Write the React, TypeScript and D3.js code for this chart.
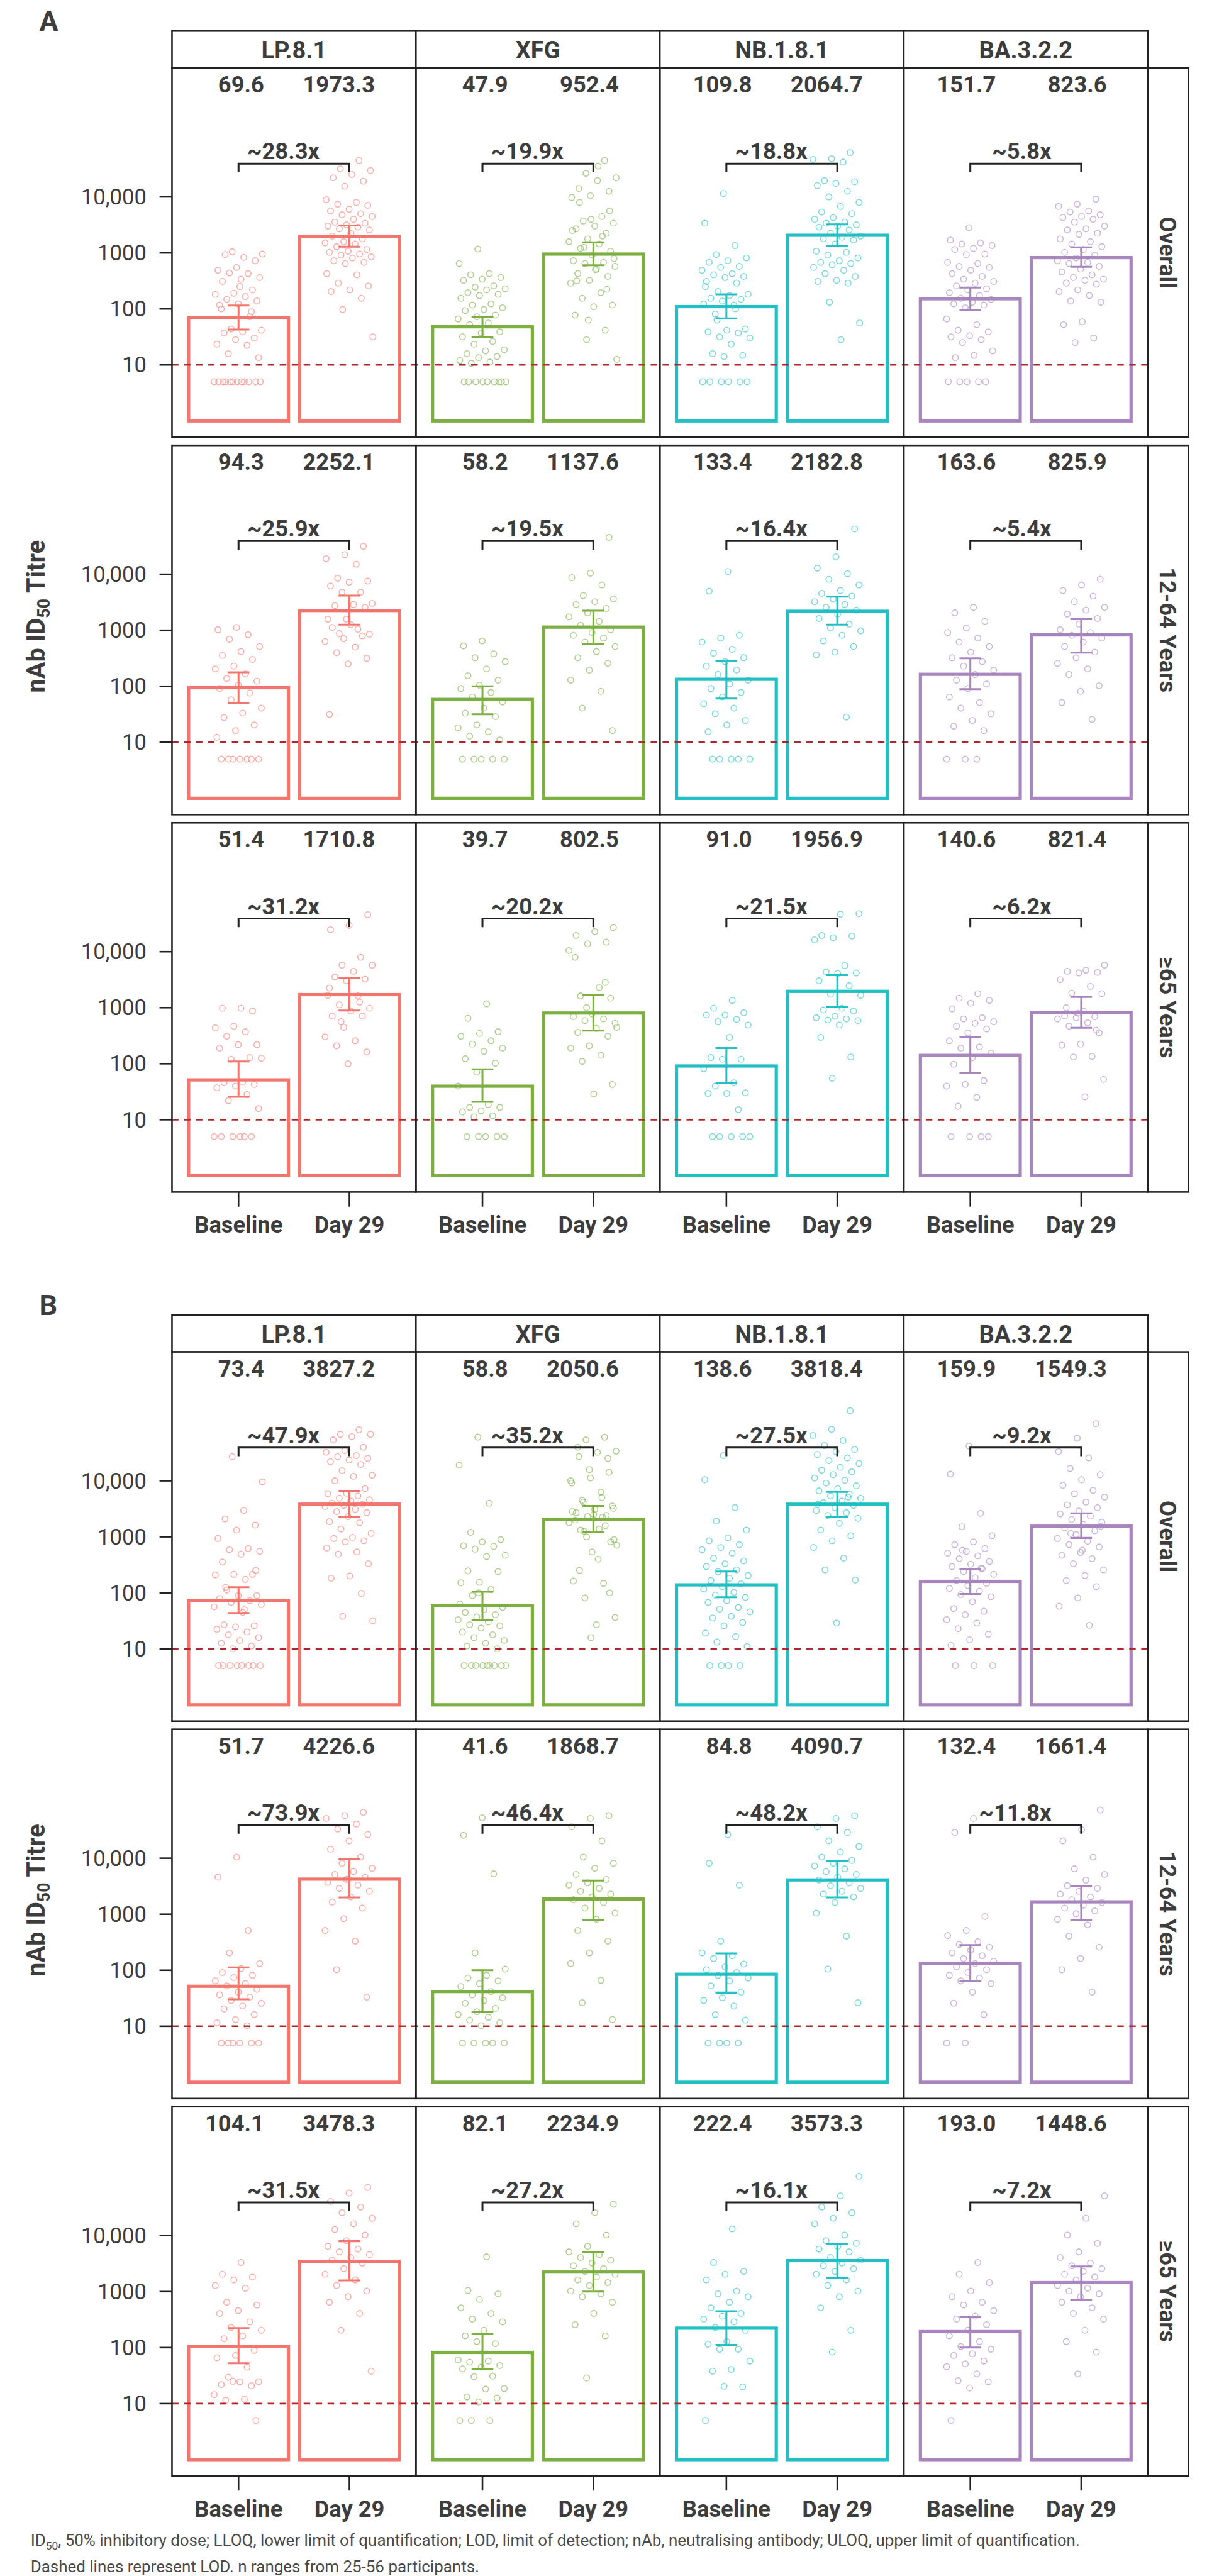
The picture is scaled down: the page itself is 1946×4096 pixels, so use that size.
import React from 'react';
import * as d3 from 'd3';

// ---- labels ----
const variants = ['LP.8.1', 'XFG', 'NB.1.8.1', 'BA.3.2.2'];
const subgroups = ['Overall', '12-64 Years', '\u226565 Years'];
const timepoints = ['Baseline', 'Day 29'];
const panelLetters = ['A', 'B'];
const variantColors = ['#F3766E', '#7CAE42', '#22BFC4', '#A985BF'];
const yTicks = [10, 100, 1000, 10000];
const yTickLabels = ['10', '100', '1000', '10,000'];
const lod = 10;

// ---- GMT (bar heights) [variant][baseline, day 29] ----
const gmtA_overall = [[69.6, 1973.3], [47.9, 952.4], [109.8, 2064.7], [151.7, 823.6]];
const gmtA_1264 = [[94.3, 2252.1], [58.2, 1137.6], [133.4, 2182.8], [163.6, 825.9]];
const gmtA_65 = [[51.4, 1710.8], [39.7, 802.5], [91.0, 1956.9], [140.6, 821.4]];
const gmtB_overall = [[73.4, 3827.2], [58.8, 2050.6], [138.6, 3818.4], [159.9, 1549.3]];
const gmtB_1264 = [[51.7, 4226.6], [41.6, 1868.7], [84.8, 4090.7], [132.4, 1661.4]];
const gmtB_65 = [[104.1, 3478.3], [82.1, 2234.9], [222.4, 3573.3], [193.0, 1448.6]];

// ---- fold rise labels ----
const foldA = [
  ['~28.3x', '~19.9x', '~18.8x', '~5.8x'],
  ['~25.9x', '~19.5x', '~16.4x', '~5.4x'],
  ['~31.2x', '~20.2x', '~21.5x', '~6.2x'],
];
const foldB = [
  ['~47.9x', '~35.2x', '~27.5x', '~9.2x'],
  ['~73.9x', '~46.4x', '~48.2x', '~11.8x'],
  ['~31.5x', '~27.2x', '~16.1x', '~7.2x'],
];

// ---- 95% CI, log10 titre [baseLo, baseHi, d29Lo, d29Hi] ----
const ciA_overall = [[1.63, 2.06, 3.11, 3.49], [1.50, 1.86, 2.78, 3.19], [1.83, 2.26, 3.12, 3.51], [1.98, 2.38, 2.75, 3.10]];
const ciA_1264 = [[1.70, 2.25, 3.10, 3.62], [1.50, 2.00, 2.75, 3.35], [1.78, 2.45, 3.10, 3.60], [1.95, 2.50, 2.60, 3.20]];
const ciA_65 = [[1.41, 2.04, 2.95, 3.53], [1.32, 1.90, 2.59, 3.23], [1.66, 2.28, 3.01, 3.58], [1.84, 2.47, 2.64, 3.19]];
const ciB_overall = [[1.64, 2.10, 3.35, 3.82], [1.52, 2.02, 3.08, 3.55], [1.92, 2.38, 3.35, 3.80], [1.98, 2.42, 2.98, 3.42]];
const ciB_1264 = [[1.48, 2.05, 3.30, 3.98], [1.25, 2.00, 2.90, 3.60], [1.60, 2.30, 3.30, 3.95], [1.80, 2.45, 2.90, 3.50]];
const ciB_65 = [[1.72, 2.35, 3.20, 3.90], [1.62, 2.25, 3.00, 3.70], [2.05, 2.65, 3.25, 3.85], [2.00, 2.55, 2.85, 3.45]];

// ---- individual titres, log10 (5 = below LOD) ----
// A, overall
const A_ovr_LP_b = [3.02, 2.98, 2.92, 2.97, 2.86, 2.74, 2.69, 2.63, 2.64, 2.56, 2.53, 2.49, 2.34, 2.28, 2.26, 2.22, 2.17, 2.14, 2.09, 2.07, 1.86, 1.64, 1.62, 1.59, 1.57, 1.48, 1.45, 1.37, 1.35, 1.20, 1.13, 2.40, 2.00, 1.95, 0.7, 0.7, 0.7, 0.7, 0.7, 0.7, 0.7, 0.7, 0.7, 0.7, 0.7, 0.7];
const A_ovr_LP_d = [4.65, 4.50, 4.47, 4.40, 4.34, 4.28, 4.19, 3.95, 3.90, 3.87, 3.85, 3.78, 3.75, 3.70, 3.68, 3.65, 3.60, 3.55, 3.53, 3.50, 3.48, 3.46, 3.43, 3.41, 3.35, 3.30, 3.25, 3.20, 3.18, 3.16, 3.11, 3.06, 3.03, 3.01, 2.98, 2.96, 2.93, 2.91, 2.86, 2.83, 2.81, 2.63, 2.61, 2.46, 2.41, 2.34, 2.31, 2.19, 1.99, 1.50];
const A_ovr_XFG_b = [3.07, 2.81, 2.63, 2.61, 2.56, 2.53, 2.51, 2.41, 2.39, 2.36, 2.34, 2.29, 2.26, 2.24, 2.19, 2.09, 2.07, 2.02, 1.99, 1.97, 1.89, 1.86, 1.82, 1.75, 1.72, 1.59, 1.57, 1.50, 1.42, 1.37, 1.27, 1.25, 1.20, 1.15, 1.13, 1.08, 1.05, 1.03, 0.7, 0.7, 0.7, 0.7, 0.7, 0.7, 0.7, 0.7, 0.7];
const A_ovr_XFG_d = [4.65, 4.42, 4.34, 4.29, 4.15, 4.10, 4.02, 3.99, 3.65, 3.57, 3.53, 3.48, 3.43, 3.35, 3.25, 3.20, 3.16, 3.08, 3.03, 2.96, 2.86, 2.83, 2.81, 2.76, 2.71, 2.63, 2.58, 2.51, 2.46, 2.29, 2.19, 2.07, 2.04, 1.89, 1.62, 1.45, 1.10, 4.55, 3.90, 3.75, 3.60, 3.40, 3.30, 3.10, 2.90, 2.70, 2.50, 2.35, 1.80];
const A_ovr_NB_b = [4.06, 3.53, 3.13, 2.97, 2.91, 2.86, 2.83, 2.76, 2.74, 2.69, 2.63, 2.61, 2.58, 2.56, 2.49, 2.46, 2.31, 2.26, 2.24, 2.19, 2.17, 2.14, 2.09, 2.07, 1.91, 1.64, 1.62, 1.59, 1.57, 1.50, 1.48, 1.37, 1.20, 1.17, 1.15, 2.40, 2.00, 1.80, 0.7, 0.7, 0.7, 0.7, 0.7, 0.7];
const A_ovr_NB_d = [4.79, 4.68, 4.67, 4.62, 4.29, 4.27, 4.24, 4.20, 4.10, 4.00, 3.90, 3.83, 3.73, 3.70, 3.63, 3.60, 3.55, 3.53, 3.50, 3.48, 3.46, 3.41, 3.35, 3.30, 3.28, 3.25, 3.23, 3.16, 3.03, 3.01, 2.96, 2.91, 2.86, 2.83, 2.81, 2.79, 2.74, 2.69, 2.63, 2.58, 2.51, 2.49, 2.46, 2.12, 1.75, 1.45];
const A_ovr_BA_b = [3.45, 3.23, 3.18, 3.16, 3.13, 3.08, 3.06, 2.98, 2.97, 2.83, 2.81, 2.76, 2.74, 2.69, 2.63, 2.58, 2.53, 2.49, 2.46, 2.41, 2.36, 2.34, 2.29, 2.24, 2.19, 2.17, 2.12, 2.09, 2.07, 2.02, 1.82, 1.72, 1.62, 1.59, 1.52, 1.50, 1.45, 1.40, 1.25, 1.17, 1.13, 0.7, 0.7, 0.7, 0.7, 0.7];
const A_ovr_BA_d = [3.96, 3.87, 3.83, 3.75, 3.73, 3.68, 3.65, 3.63, 3.60, 3.55, 3.48, 3.43, 3.41, 3.35, 3.33, 3.25, 3.20, 3.16, 3.11, 3.06, 3.01, 2.96, 2.91, 2.86, 2.83, 2.81, 2.76, 2.71, 2.66, 2.61, 2.56, 2.53, 2.51, 2.46, 2.44, 2.34, 2.31, 2.24, 2.14, 2.12, 1.77, 1.72, 1.48, 1.40];
// A, 12-64 years
const A_yng_LP_b = [3.05, 3.01, 2.92, 2.84, 2.71, 2.62, 2.55, 2.48, 2.36, 2.31, 2.22, 2.14, 2.09, 2.02, 1.96, 1.88, 1.76, 1.61, 1.52, 1.44, 1.31, 1.21, 1.09, 0.7, 0.7, 0.7, 0.7, 0.7, 0.7, 0.7];
const A_yng_LP_d = [4.50, 4.35, 4.28, 4.18, 3.93, 3.88, 3.86, 3.79, 3.68, 3.68, 3.48, 3.46, 3.44, 3.41, 3.20, 3.20, 3.02, 2.94, 2.93, 3.10, 3.05, 2.90, 2.85, 2.80, 2.70, 2.60, 2.50, 2.40, 1.50];
const A_yng_XFG_b = [2.81, 2.72, 2.58, 2.51, 2.44, 2.31, 2.19, 2.11, 2.02, 1.96, 1.89, 1.81, 1.72, 1.61, 1.52, 1.46, 1.31, 1.26, 1.19, 1.11, 1.04, 0.7, 0.7, 0.7, 0.7, 0.7];
const A_yng_XFG_d = [4.66, 4.02, 3.94, 3.81, 3.62, 3.56, 3.51, 3.46, 3.39, 3.31, 3.24, 3.16, 3.09, 3.01, 2.96, 2.91, 2.86, 2.79, 2.71, 2.62, 2.51, 2.41, 2.29, 2.11, 1.91, 1.61, 1.21];
const A_yng_NB_b = [4.05, 3.70, 2.91, 2.86, 2.79, 2.66, 2.59, 2.51, 2.44, 2.36, 2.29, 2.21, 2.11, 2.04, 1.96, 1.89, 1.81, 1.69, 1.61, 1.51, 1.39, 1.31, 1.19, 0.7, 0.7, 0.7, 0.7, 0.7];
const A_yng_NB_d = [4.81, 4.31, 4.11, 4.01, 3.91, 3.81, 3.71, 3.66, 3.61, 3.56, 3.51, 3.46, 3.41, 3.36, 3.29, 3.21, 3.11, 3.04, 2.99, 2.91, 2.81, 2.71, 2.61, 2.56, 1.45];
const A_yng_BA_b = [3.41, 3.31, 3.16, 3.04, 2.96, 2.86, 2.79, 2.71, 2.61, 2.51, 2.44, 2.36, 2.29, 2.21, 2.11, 2.04, 1.96, 1.81, 1.71, 1.61, 1.51, 1.39, 1.29, 1.21, 0.7, 0.7, 0.7];
const A_yng_BA_d = [3.91, 3.81, 3.71, 3.61, 3.51, 3.41, 3.36, 3.29, 3.21, 3.11, 3.01, 2.96, 2.91, 2.86, 2.79, 2.71, 2.61, 2.51, 2.41, 2.31, 2.21, 2.01, 1.91, 1.71, 1.41];
// A, >=65 years
const A_old_LP_b = [2.99, 2.99, 2.94, 2.67, 2.64, 2.57, 2.49, 2.34, 2.34, 2.28, 2.11, 2.08, 2.10, 1.67, 1.66, 1.63, 1.60, 1.57, 1.45, 1.34, 1.20, 0.7, 0.7, 0.7, 0.7, 0.7, 0.7];
const A_old_LP_d = [4.66, 4.47, 4.39, 3.90, 3.76, 3.76, 3.65, 3.55, 3.51, 3.48, 3.22, 3.21, 3.05, 2.99, 2.94, 2.85, 2.85, 2.65, 2.48, 2.41, 2.32, 2.21, 2.00, 3.35, 3.10, 2.75];
const A_old_XFG_b = [3.07, 2.81, 2.57, 2.54, 2.49, 2.41, 2.35, 2.28, 2.22, 2.09, 2.01, 1.85, 1.60, 1.27, 1.22, 1.22, 1.16, 1.14, 1.07, 1.05, 0.7, 0.7, 0.7, 0.7, 0.7];
const A_old_XFG_d = [4.43, 4.36, 4.29, 4.17, 4.14, 4.02, 3.36, 3.21, 3.17, 2.89, 2.84, 2.80, 2.77, 2.72, 2.63, 2.56, 2.49, 2.32, 2.28, 2.15, 2.04, 1.63, 1.46, 3.90, 3.45, 3.00, 2.65];
const A_old_NB_b = [3.13, 2.99, 2.91, 2.87, 2.87, 2.79, 2.75, 2.69, 2.47, 2.11, 2.08, 2.08, 1.91, 1.66, 1.60, 1.48, 1.47, 1.47, 1.18, 0.7, 0.7, 0.7, 0.7, 0.7];
const A_old_NB_d = [4.68, 4.67, 4.29, 4.28, 4.25, 4.21, 3.75, 3.64, 3.62, 3.61, 3.48, 3.39, 3.24, 3.22, 2.99, 2.96, 2.94, 2.85, 2.82, 2.80, 2.78, 2.77, 2.69, 2.47, 2.12, 1.74];
const A_old_BA_b = [3.25, 3.17, 3.13, 3.08, 2.98, 2.82, 2.80, 2.75, 2.72, 2.67, 2.62, 2.55, 2.41, 2.30, 2.28, 2.19, 2.11, 1.99, 1.70, 1.63, 1.60, 1.40, 1.24, 0.7, 0.7, 0.7, 0.7];
const A_old_BA_d = [3.76, 3.67, 3.65, 3.63, 3.62, 3.50, 3.38, 3.26, 3.25, 2.94, 2.85, 2.84, 2.82, 2.80, 2.73, 2.67, 2.55, 2.35, 2.33, 2.13, 2.12, 1.72, 1.41, 3.00, 2.60, 2.90];
// B, overall
const B_ovr_LP_b = [4.43, 3.98, 3.47, 3.32, 3.21, 3.12, 2.97, 2.79, 2.77, 2.74, 2.69, 2.55, 2.33, 2.33, 2.32, 2.24, 2.05, 1.95, 1.95, 1.90, 1.86, 1.83, 1.79, 1.65, 1.43, 1.41, 1.39, 1.35, 1.30, 1.25, 1.20, 1.15, 1.10, 1.05, 1.00, 1.75, 1.70, 2.10, 2.40, 0.7, 0.7, 0.7, 0.7, 0.7, 0.7, 0.7, 0.7];
const B_ovr_LP_d = [4.91, 4.83, 4.83, 4.79, 4.73, 4.60, 4.54, 4.51, 4.45, 4.43, 4.40, 4.37, 4.34, 4.29, 4.18, 4.10, 4.08, 4.00, 3.86, 3.78, 3.77, 3.73, 3.69, 3.66, 3.64, 3.60, 3.58, 3.56, 3.54, 3.49, 3.45, 3.43, 3.36, 3.27, 3.25, 3.14, 3.06, 2.99, 2.97, 2.93, 2.91, 2.80, 2.73, 2.69, 2.52, 2.30, 2.26, 1.99, 1.58, 1.50];
const B_ovr_XFG_b = [4.78, 4.28, 3.60, 3.08, 2.95, 2.91, 2.84, 2.83, 2.78, 2.67, 2.65, 2.39, 2.38, 2.19, 2.18, 2.06, 1.95, 1.74, 1.70, 1.65, 1.61, 1.57, 1.52, 1.48, 1.43, 1.41, 1.37, 1.30, 1.25, 1.20, 1.15, 1.10, 1.05, 1.00, 2.00, 1.80, 0.7, 0.7, 0.7, 0.7, 0.7, 0.7, 0.7, 0.7, 0.7];
const B_ovr_XFG_d = [4.78, 4.73, 4.53, 4.51, 4.43, 4.15, 4.05, 3.96, 3.70, 3.62, 3.51, 3.49, 3.43, 3.38, 3.36, 3.25, 3.14, 3.12, 2.91, 2.73, 2.21, 2.17, 1.91, 1.56, 1.43, 4.60, 4.40, 4.20, 4.00, 3.80, 3.65, 3.55, 3.40, 3.30, 3.20, 3.00, 2.85, 2.60, 2.40, 2.00, 1.20, 3.45, 3.35, 3.10, 2.95];
const B_ovr_NB_b = [4.45, 4.02, 3.52, 3.28, 3.12, 2.98, 2.93, 2.86, 2.81, 2.77, 2.71, 2.62, 2.57, 2.52, 2.47, 2.41, 2.38, 2.31, 2.26, 2.22, 2.16, 2.11, 2.07, 2.01, 1.96, 1.92, 1.86, 1.83, 1.74, 1.71, 1.66, 1.58, 1.55, 1.47, 1.41, 1.28, 1.22, 1.12, 1.04, 0.7, 0.7, 0.7, 0.7];
const B_ovr_NB_d = [5.25, 4.92, 4.81, 4.72, 4.63, 4.56, 4.52, 4.47, 4.41, 4.36, 4.31, 4.24, 4.19, 4.16, 4.11, 4.05, 4.01, 3.96, 3.91, 3.86, 3.82, 3.76, 3.73, 3.69, 3.64, 3.61, 3.56, 3.52, 3.47, 3.43, 3.38, 3.33, 3.24, 3.12, 3.02, 2.93, 2.81, 2.62, 2.41, 2.23, 1.46, 3.58, 3.71];
const B_ovr_BA_b = [4.62, 4.12, 3.42, 3.18, 3.02, 2.91, 2.86, 2.79, 2.74, 2.71, 2.66, 2.61, 2.56, 2.51, 2.47, 2.43, 2.38, 2.33, 2.27, 2.22, 2.17, 2.13, 2.08, 2.03, 1.97, 1.93, 1.84, 1.72, 1.67, 1.61, 1.52, 1.46, 1.36, 1.26, 1.16, 1.06, 2.44, 2.76, 0.7, 0.7, 0.7];
const B_ovr_BA_d = [5.02, 4.76, 4.52, 4.41, 4.22, 4.11, 4.02, 3.92, 3.83, 3.77, 3.71, 3.62, 3.57, 3.52, 3.46, 3.41, 3.37, 3.31, 3.26, 3.22, 3.16, 3.11, 3.04, 2.97, 2.92, 2.86, 2.82, 2.72, 2.67, 2.61, 2.52, 2.41, 2.31, 2.22, 2.11, 1.91, 1.76, 1.42, 3.06, 3.19, 2.76];
// B, 12-64 years
const B_yng_LP_b = [4.02, 3.66, 2.71, 2.31, 2.12, 2.03, 1.96, 1.91, 1.87, 1.81, 1.76, 1.72, 1.66, 1.61, 1.56, 1.52, 1.46, 1.41, 1.36, 1.31, 1.21, 1.12, 1.06, 1.01, 0.7, 0.7, 0.7, 0.7, 0.7, 0.7];
const B_yng_LP_d = [4.82, 4.76, 4.71, 4.61, 4.52, 4.42, 4.31, 4.16, 4.02, 3.91, 3.82, 3.76, 3.71, 3.66, 3.62, 3.57, 3.52, 3.46, 3.41, 3.31, 3.22, 3.11, 2.92, 2.71, 2.52, 2.01, 1.52, 3.63];
const B_yng_XFG_b = [4.72, 4.41, 3.72, 2.31, 2.02, 1.91, 1.86, 1.81, 1.76, 1.71, 1.62, 1.56, 1.51, 1.46, 1.41, 1.32, 1.26, 1.21, 1.16, 1.11, 1.06, 1.01, 0.7, 0.7, 0.7, 0.7, 0.7];
const B_yng_XFG_d = [4.76, 4.71, 4.56, 4.31, 4.02, 3.91, 3.82, 3.71, 3.62, 3.56, 3.52, 3.46, 3.41, 3.36, 3.31, 3.26, 3.21, 3.11, 3.02, 2.91, 2.71, 2.52, 2.31, 2.12, 1.82, 1.42, 1.12];
const B_yng_NB_b = [4.42, 3.91, 3.52, 2.52, 2.31, 2.26, 2.21, 2.11, 2.06, 2.01, 1.96, 1.91, 1.86, 1.81, 1.72, 1.61, 1.51, 1.46, 1.36, 1.21, 1.11, 0.7, 0.7, 0.7, 0.7];
const B_yng_NB_d = [4.76, 4.71, 4.56, 4.46, 4.31, 4.21, 4.11, 4.02, 3.96, 3.91, 3.86, 3.81, 3.76, 3.71, 3.66, 3.61, 3.56, 3.51, 3.46, 3.41, 3.36, 3.31, 3.21, 3.02, 2.61, 2.02, 1.42];
const B_yng_BA_b = [4.71, 4.46, 2.96, 2.71, 2.62, 2.51, 2.46, 2.41, 2.36, 2.31, 2.26, 2.21, 2.16, 2.12, 2.06, 2.01, 1.96, 1.91, 1.86, 1.81, 1.76, 1.61, 1.41, 1.21, 0.7, 0.7];
const B_yng_BA_d = [4.86, 4.51, 4.31, 4.02, 3.81, 3.71, 3.61, 3.51, 3.46, 3.41, 3.36, 3.31, 3.26, 3.21, 3.16, 3.11, 3.06, 3.01, 2.91, 2.81, 2.61, 2.41, 2.21, 2.01, 1.61];
// B, >=65 years
const B_old_LP_b = [3.52, 3.31, 3.26, 3.21, 3.11, 3.06, 2.81, 2.76, 2.66, 2.61, 2.46, 2.36, 2.31, 2.21, 2.16, 1.95, 1.86, 1.82, 1.65, 1.47, 1.39, 1.39, 1.34, 1.32, 1.40, 1.16, 1.08, 1.06, 0.7];
const B_old_LP_d = [4.86, 4.76, 4.61, 4.51, 4.41, 4.31, 4.21, 4.11, 4.01, 3.91, 3.81, 3.76, 3.71, 3.66, 3.61, 3.56, 3.51, 3.41, 3.31, 3.21, 3.11, 3.01, 2.91, 2.81, 2.61, 2.31, 1.58];
const B_old_XFG_b = [3.62, 3.02, 2.96, 2.86, 2.71, 2.61, 2.51, 2.46, 2.31, 2.21, 2.07, 2.11, 1.78, 1.76, 1.74, 1.68, 1.65, 1.62, 1.49, 1.48, 1.27, 1.26, 1.12, 1.10, 1.03, 0.7, 0.7, 0.7];
const B_old_XFG_d = [4.56, 4.41, 4.21, 4.01, 3.81, 3.71, 3.66, 3.61, 3.56, 3.51, 3.46, 3.41, 3.36, 3.31, 3.26, 3.21, 3.16, 3.11, 3.01, 2.96, 2.91, 2.81, 2.61, 2.41, 2.21, 1.46];
const B_old_NB_b = [4.12, 3.52, 3.36, 3.31, 3.21, 3.01, 2.96, 2.91, 2.81, 2.71, 2.61, 2.56, 2.51, 2.46, 2.36, 2.31, 2.11, 2.06, 1.97, 1.97, 1.76, 1.61, 1.58, 1.30, 1.31, 0.7];
const B_old_NB_d = [5.06, 4.71, 4.51, 4.41, 4.31, 4.21, 4.01, 3.91, 3.86, 3.81, 3.76, 3.71, 3.61, 3.56, 3.51, 3.46, 3.41, 3.36, 3.31, 3.21, 3.11, 3.01, 2.91, 2.71, 2.31, 1.92];
const B_old_BA_b = [3.52, 3.31, 3.16, 3.01, 2.91, 2.81, 2.76, 2.66, 2.56, 2.51, 2.41, 2.31, 2.21, 2.11, 2.02, 1.97, 1.89, 1.86, 1.76, 1.71, 1.66, 1.53, 1.41, 1.39, 1.28, 0.7];
const B_old_BA_d = [4.71, 4.31, 4.01, 3.86, 3.71, 3.61, 3.51, 3.46, 3.41, 3.36, 3.31, 3.26, 3.21, 3.11, 3.06, 3.01, 2.96, 2.91, 2.81, 2.71, 2.61, 2.51, 2.31, 2.11, 1.92, 1.53];

const footer1a = 'ID';
const footer1b = '50';
const footer1c = ', 50% inhibitory dose; LLOQ, lower limit of quantification; LOD, limit of detection; nAb, neutralising antibody; ULOQ, upper limit of quantification.';
const footer2 = 'Dashed lines represent LOD. n ranges from 25-56 participants.';

// ---- build table ----
const sections = [
  {
    letter: panelLetters[0],
    gmt: [gmtA_overall, gmtA_1264, gmtA_65],
    ci: [ciA_overall, ciA_1264, ciA_65],
    fold: foldA,
    pts: [
      [[A_ovr_LP_b, A_ovr_LP_d], [A_ovr_XFG_b, A_ovr_XFG_d], [A_ovr_NB_b, A_ovr_NB_d], [A_ovr_BA_b, A_ovr_BA_d]],
      [[A_yng_LP_b, A_yng_LP_d], [A_yng_XFG_b, A_yng_XFG_d], [A_yng_NB_b, A_yng_NB_d], [A_yng_BA_b, A_yng_BA_d]],
      [[A_old_LP_b, A_old_LP_d], [A_old_XFG_b, A_old_XFG_d], [A_old_NB_b, A_old_NB_d], [A_old_BA_b, A_old_BA_d]],
    ],
  },
  {
    letter: panelLetters[1],
    gmt: [gmtB_overall, gmtB_1264, gmtB_65],
    ci: [ciB_overall, ciB_1264, ciB_65],
    fold: foldB,
    pts: [
      [[B_ovr_LP_b, B_ovr_LP_d], [B_ovr_XFG_b, B_ovr_XFG_d], [B_ovr_NB_b, B_ovr_NB_d], [B_ovr_BA_b, B_ovr_BA_d]],
      [[B_yng_LP_b, B_yng_LP_d], [B_yng_XFG_b, B_yng_XFG_d], [B_yng_NB_b, B_yng_NB_d], [B_yng_BA_b, B_yng_BA_d]],
      [[B_old_LP_b, B_old_LP_d], [B_old_XFG_b, B_old_XFG_d], [B_old_NB_b, B_old_NB_d], [B_old_BA_b, B_old_BA_d]],
    ],
  },
];

// ---- layout (reference pixels, drawn through viewBox) ----
const W = 2250;
const H = 4737;
const colX0 = 316;
const colW = 448.5;
const stripW = 75;
const stripH = 68;
const rowH = 679;
const rowGap = 15;
const sectionTop = [57, 2418];
const textCol = '#3d3d3d';
const lineCol = '#222';
const font = "Roboto, 'Noto Sans', sans-serif";

const xScaleFor = (c: number) =>
  d3.scaleLinear().domain([0.4, 2.6]).range([colX0 + c * colW, colX0 + (c + 1) * colW]);
const yScaleFor = (top: number) =>
  d3.scaleLog().domain([10 ** -0.291, 10 ** 6.301]).range([top + rowH, top]);

// deterministic horizontal jitter in [-1, 1]
const jitter = (i: number) => (((i * 0.618034 + 0.37) % 1) - 0.5) * 2;

export default function App() {
  const panelsRight = colX0 + 4 * colW;

  return (
    <div style={{ position: 'absolute', left: 0, top: 0 }}>
      <svg width={1946} height={4096} viewBox={`0 0 ${W} ${H}`} style={{ display: 'block' }} fontFamily={font}>
        <rect width={W} height={H} fill="#fff" />
        {sections.map((sec, s) => {
          const sTop = sectionTop[s];
          const firstRowTop = sTop + stripH;
          const lastRowBottom = firstRowTop + 3 * rowH + 2 * rowGap;
          return (
            <g key={sec.letter}>
              <text x={72} y={sTop} fontSize={52} fontWeight={700} fill={textCol}>{sec.letter}</text>
              <text
                transform={`translate(82,${(firstRowTop + lastRowBottom) / 2 - 25}) rotate(-90)`}
                textAnchor="middle"
                fontSize={46}
                fontWeight={700}
                fill={textCol}
              >
                nAb ID<tspan fontSize={31} dy={9}>50</tspan><tspan dy={-9}> Titre</tspan>
              </text>

              {/* strip headers */}
              {variants.map((v, c) => (
                <g key={v}>
                  <rect x={colX0 + c * colW} y={sTop} width={colW} height={stripH} fill="#fff" stroke={lineCol} strokeWidth={3} />
                  <text x={colX0 + c * colW + colW / 2} y={sTop + 51} textAnchor="middle" fontSize={44} fontWeight={700} fill={textCol}>{v}</text>
                </g>
              ))}

              {subgroups.map((sg, r) => {
                const top = firstRowTop + r * (rowH + rowGap);
                const y = yScaleFor(top);
                return (
                  <g key={sg}>
                    {variants.map((v, c) => (
                      <rect key={v} x={colX0 + c * colW} y={top} width={colW} height={rowH} fill="#fff" />
                    ))}

                    {variants.map((v, c) => {
                      const x = xScaleFor(c);
                      const col = variantColors[c];
                      const gm = sec.gmt[r][c];
                      const ci = sec.ci[r][c];
                      const mid = (x(1) + x(2)) / 2;
                      const brY = top + 176;
                      return (
                        <g key={v}>
                          {timepoints.map((tp, k) => (
                            <rect
                              key={tp}
                              x={x(k + 1 - 0.45)}
                              y={y(gm[k])}
                              width={x(k + 1 + 0.45) - x(k + 1 - 0.45)}
                              height={y(1) - y(gm[k])}
                              fill="none"
                              stroke={col}
                              strokeWidth={6}
                            />
                          ))}
                          {timepoints.map((tp, k) =>
                            sec.pts[r][c][k].map((lv, i) => (
                              <circle
                                key={`${tp}-${i}`}
                                cx={x(k + 1 + 0.22 * jitter(i + k * 7 + c * 13 + r * 5))}
                                cy={y(10 ** lv)}
                                r={5.4}
                                fill="none"
                                stroke={col}
                                strokeOpacity={0.6}
                                strokeWidth={1.8}
                              />
                            ))
                          )}
                          {timepoints.map((tp, k) => {
                            const lo = y(10 ** ci[k * 2]);
                            const hi = y(10 ** ci[k * 2 + 1]);
                            const cx = x(k + 1);
                            return (
                              <g key={tp} stroke={col} strokeWidth={3.5}>
                                <line x1={cx} x2={cx} y1={lo} y2={hi} />
                                <line x1={cx - 20} x2={cx + 20} y1={lo} y2={lo} />
                                <line x1={cx - 20} x2={cx + 20} y1={hi} y2={hi} />
                              </g>
                            );
                          })}
                          {timepoints.map((tp, k) => (
                            <text key={tp} x={x(k + 1) + 47} y={top + 45} textAnchor="end" fontSize={42} fontWeight={700} fill={textCol}>
                              {gm[k].toFixed(1)}
                            </text>
                          ))}
                          <path
                            d={`M${x(1)},${brY + 16}V${brY}H${x(2)}V${brY + 16}`}
                            fill="none"
                            stroke={lineCol}
                            strokeWidth={3.5}
                          />
                          <text x={mid + 47} y={top + 168} textAnchor="end" fontSize={42} fontWeight={700} fill={textCol}>
                            {sec.fold[r][c]}
                          </text>
                        </g>
                      );
                    })}

                    {/* LOD */}
                    <line x1={colX0} x2={panelsRight} y1={y(lod)} y2={y(lod)} stroke="#B0262B" strokeWidth={3} strokeDasharray="12 10" />

                    {/* panel borders */}
                    {variants.map((v, c) => (
                      <rect key={v} x={colX0 + c * colW} y={top} width={colW} height={rowH} fill="none" stroke={lineCol} strokeWidth={3} />
                    ))}

                    {/* right strip */}
                    <rect x={panelsRight} y={top} width={stripW} height={rowH} fill="#fff" stroke={lineCol} strokeWidth={3} />
                    <text
                      transform={`translate(${panelsRight + stripW / 2 - 15},${top + rowH / 2}) rotate(90)`}
                      textAnchor="middle"
                      fontSize={42}
                      fontWeight={700}
                      fill={textCol}
                    >
                      {sg}
                    </text>

                    {/* y axis */}
                    {yTicks.map((t, i) => (
                      <g key={t}>
                        <line x1={colX0 - 23} x2={colX0} y1={y(t)} y2={y(t)} stroke={lineCol} strokeWidth={3} />
                        <text x={269} y={y(t) + 14} textAnchor="end" fontSize={40} fill={textCol}>{yTickLabels[i]}</text>
                      </g>
                    ))}
                  </g>
                );
              })}

              {/* x axis */}
              {variants.map((v, c) => {
                const x = xScaleFor(c);
                return timepoints.map((tp, k) => (
                  <g key={`${v}-${tp}`}>
                    <line x1={x(k + 1)} x2={x(k + 1)} y1={lastRowBottom} y2={lastRowBottom + 27} stroke={lineCol} strokeWidth={3} />
                    <text x={x(k + 1)} y={lastRowBottom + 75} textAnchor="middle" fontSize={42} fontWeight={700} fill={textCol}>{tp}</text>
                  </g>
                ));
              })}
            </g>
          );
        })}

        <text x={56} y={4682} fontSize={30} fill="#4a4a4a">
          {footer1a}<tspan fontSize={20} dy={7}>{footer1b}</tspan><tspan dy={-7}>{footer1c}</tspan>
        </text>
        <text x={56} y={4730} fontSize={30} fill="#4a4a4a">{footer2}</text>
      </svg>
    </div>
  );
}
